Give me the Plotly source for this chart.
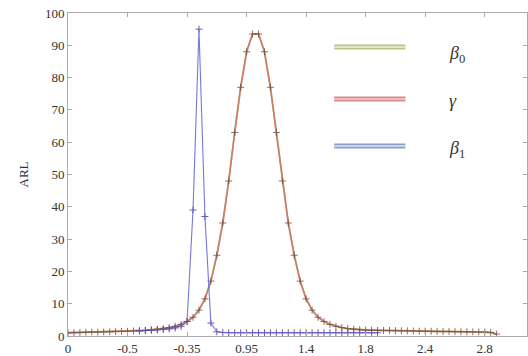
import plotly.graph_objects as go

# x positions are sample indices; tick labels as printed on the chart
x_index = list(range(0, 73))
tick_positions = [0, 10, 20, 30, 40, 50, 60, 70]
tick_labels = ["0", "-0.5", "-0.35", "0.95", "1.4", "1.8", "2.4", "2.8"]

gamma_vals = [
    1.0, 1.05, 1.1, 1.15, 1.2, 1.2, 1.25, 1.3, 1.35, 1.4,
    1.45, 1.55, 1.65, 1.75, 1.9, 2.1, 2.3, 2.6, 3.0, 3.6,
    4.5, 5.8, 8.0, 11.5, 17.0, 25.0, 35.0, 48.0, 63.0, 77.0,
    88.0, 93.5, 93.5, 88.0, 77.0, 63.0, 48.0, 35.0, 25.0, 17.0,
    11.5, 8.0, 5.8, 4.5, 3.6, 3.0, 2.6, 2.3, 2.1, 1.95,
    1.85, 1.8, 1.75, 1.7, 1.7, 1.65, 1.6, 1.6, 1.55, 1.5,
    1.5, 1.45, 1.45, 1.4, 1.4, 1.35, 1.35, 1.3, 1.3, 1.25,
    1.2, 1.1, 0.6,
]
beta0_vals = list(gamma_vals)

beta1_x = list(range(12, 53))
beta1_vals = [
    1.6, 1.7, 1.8, 1.9, 2.0, 2.2, 2.5, 3.0, 4.5, 39.0,
    95.0, 37.0, 4.0, 1.3, 1.1, 1.0, 1.0, 1.0, 1.0, 1.0,
    1.0, 1.0, 1.0, 1.0, 1.0, 1.0, 1.0, 1.0, 1.0, 1.0,
    1.0, 1.0, 1.0, 1.0, 1.0, 1.0, 1.0, 1.0, 1.0, 1.0,
    1.0,
]

legend_names = ["<i>β</i><sub>0</sub>", "<i>γ</i>", "<i>β</i><sub>1</sub>"]

fig = go.Figure()
fig.add_trace(go.Scatter(x=x_index, y=beta0_vals, mode="lines",
                         line=dict(color="#a9bb6a", width=1.8), showlegend=False))
fig.add_trace(go.Scatter(x=x_index, y=gamma_vals, mode="lines+markers",
                         line=dict(color="#e0606e", width=1.6), opacity=0.7,
                         marker=dict(symbol="cross-thin", size=5,
                                     line=dict(color="#6a3030", width=1)),
                         showlegend=False))
fig.add_trace(go.Scatter(x=beta1_x, y=beta1_vals, mode="lines+markers",
                         line=dict(color="#6a6ad8", width=1.1), opacity=0.9,
                         marker=dict(symbol="cross-thin", size=5,
                                     line=dict(color="#5a4ab0", width=1)),
                         showlegend=False))

# hand-drawn legend
leg = [
    (0.895, "#b6c685", "#eef2d8", 6),
    (0.734, "#d9878f", "#f6d0d3", 10),
    (0.588, "#8e9cc6", "#e2e6f2", -3),
]
for (yy, outer, inner, ys), name in zip(leg, legend_names):
    fig.add_shape(type="line", xref="paper", yref="paper", x0=0.58, x1=0.735,
                  y0=yy, y1=yy, line=dict(color=outer, width=5))
    fig.add_shape(type="line", xref="paper", yref="paper", x0=0.58, x1=0.735,
                  y0=yy, y1=yy, line=dict(color=inner, width=1.5))
    fig.add_annotation(xref="paper", yref="paper", x=0.825, y=yy, text=name,
                       showarrow=False, xanchor="left", yshift=ys,
                       font=dict(family="Liberation Serif", size=18, color="#333"))

axis_font = dict(family="Liberation Serif", size=13, color="#333")
fig.update_xaxes(range=[0, 77.1], tickvals=tick_positions, ticktext=tick_labels,
                 showline=True, linecolor="#aaa", linewidth=1, mirror="ticks",
                 ticks="inside", ticklen=4, tickcolor="#aaa", showgrid=False,
                 zeroline=False, tickfont=axis_font)
fig.update_yaxes(range=[0, 100], dtick=10, showline=True, linecolor="#aaa",
                 linewidth=1, mirror="ticks", ticks="inside", ticklen=4,
                 tickcolor="#aaa", showgrid=False, zeroline=False,
                 tickfont=axis_font,
                 title=dict(text="ARL", font=axis_font, standoff=13))
fig.update_layout(width=528, height=356, margin=dict(l=68, r=1, t=13, b=20),
                  plot_bgcolor="white", paper_bgcolor="white")
fig.write_html("out.html", config={"displayModeBar": False},
               post_script="document.body.style.margin='0';document.body.style.overflow='hidden';")
